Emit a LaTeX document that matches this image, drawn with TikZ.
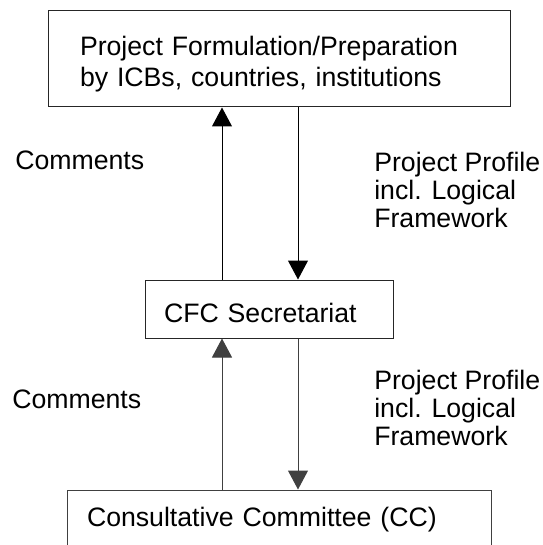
\documentclass[tikz,border=0pt]{standalone}
\usepackage{fontspec}
\setmainfont{Liberation Sans}
\usetikzlibrary{arrows.meta}
\definecolor{linegray}{RGB}{64,64,64}
\begin{document}
\begin{tikzpicture}[x=0.75pt, y=-0.75pt,
	box/.style={draw=black!85, line width=0.75pt, align=left, inner ysep=0pt, font=\fontsize{20}{23.25}\selectfont},
	lbl/.style={anchor=west, align=left, inner sep=0pt, font=\fontsize{20}{21}\selectfont},
	arr/.style={line width=0.75pt, -{Triangle[length=14.25pt, width=15pt]}}]
	\clip (0,0) rectangle (542,545);

	\node[box, minimum width=346.5pt, minimum height=72pt, text width=298.5pt, inner xsep=24pt, text height=22pt] (prep) at (279,59)
		{Project Formulation/Preparation\\by ICBs, countries, institutions};
	\node[box, minimum width=186pt, minimum height=43.5pt, text width=157.5pt, inner xsep=14.25pt, text height=20pt, text depth=0pt] (cfc) at (269,309)
		{CFC Secretariat};
	\node[box, draw=linegray, minimum width=318pt, minimum height=45pt, text width=288pt, inner xsep=15pt] (cc) at (279,520)
		{Consultative Committee (CC)};

	\node[lbl] (com1) at (15,160) {Comments};
	\node[lbl] (pp1)  at (374,190) {Project Profile\\incl. Logical\\Framework};
	\node[lbl] (com2) at (12,399) {Comments};
	\node[lbl] (pp2)  at (374,408) {Project Profile\\incl. Logical\\Framework};

	\coordinate (left) at (222,0);
	\coordinate (right) at (298,0);

	\draw[arr] (cfc.north -| left) -- (prep.south -| left);
	\draw[arr] (prep.south -| right) -- (cfc.north -| right);
	\draw[arr, linegray] (cc.north -| left) -- (cfc.south -| left);
	\draw[arr, linegray] (cfc.south -| right) -- (cc.north -| right);
\end{tikzpicture}
\end{document}
